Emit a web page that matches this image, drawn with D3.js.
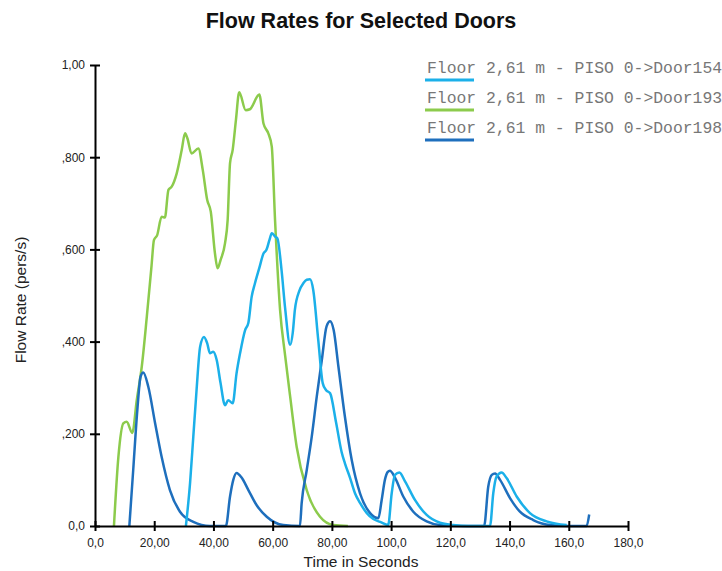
<!DOCTYPE html>
<html>
<head>
<meta charset="utf-8">
<script src="https://cdn.jsdelivr.net/npm/d3@7"></script>
<style>
  html, body { margin: 0; padding: 0; background: #fff; }
  svg { display: block; }
</style>
</head>
<body>
<svg id="chart" width="722" height="571"></svg>
<script>
// ---------- data ----------
const seriesNames = ["Floor 2,61 m - PISO 0->Door154", "Floor 2,61 m - PISO 0->Door193", "Floor 2,61 m - PISO 0->Door198"];

const door154T = [30.7, 32.1, 33.2, 34.3, 35.5, 36.8, 37.9, 38.8, 39.9, 41.1, 42.4, 43.9, 45.0, 46.5, 47.8, 49.0, 50.7, 51.8, 52.9, 54.0, 55.5, 56.9, 57.9, 58.9, 59.7, 60.8, 61.6, 63.0, 64.2, 65.9, 66.8, 67.5, 69.0, 70.4, 71.5, 72.6, 73.7, 75.4, 76.9, 78.0, 79.4, 81.4, 83.3, 84.4, 86.1, 87.8, 89.5, 91.8, 94.0, 96.3, 99.0, 100.2, 101.3, 102.8, 104.7, 108.1, 112.0, 116.5, 121.0, 126.0, 133.4, 134.5, 135.6, 137.3, 139.0, 142.4, 146.9, 152.5, 159.3];
const door154V = [0, 0.093, 0.194, 0.295, 0.389, 0.410, 0.396, 0.375, 0.378, 0.360, 0.310, 0.262, 0.273, 0.266, 0.331, 0.375, 0.425, 0.441, 0.497, 0.526, 0.560, 0.591, 0.599, 0.620, 0.635, 0.628, 0.624, 0.555, 0.473, 0.393, 0.420, 0.469, 0.510, 0.527, 0.534, 0.535, 0.512, 0.403, 0.310, 0.295, 0.288, 0.225, 0.160, 0.136, 0.105, 0.071, 0.050, 0.028, 0.015, 0.009, 0.002, 0.071, 0.111, 0.116, 0.097, 0.056, 0.024, 0.007, 0.002, 0, 0, 0.071, 0.107, 0.116, 0.104, 0.064, 0.028, 0.010, 0.002];

const door193T = [6.4, 7.9, 9.6, 10.7, 12.6, 14.1, 15.8, 17.5, 19.1, 19.9, 21.0, 22.5, 23.6, 24.8, 25.9, 27.6, 29.3, 30.4, 31.2, 32.6, 34.9, 36.4, 37.9, 39.1, 40.5, 41.4, 42.4, 43.9, 44.8, 45.6, 46.5, 47.6, 48.7, 50.9, 52.3, 55.5, 56.9, 58.5, 59.7, 60.8, 62.5, 64.2, 65.9, 68.1, 71.5, 76.0, 80.5, 85.4];
const door193V = [0, 0.150, 0.223, 0.226, 0.202, 0.273, 0.346, 0.454, 0.565, 0.620, 0.631, 0.671, 0.669, 0.729, 0.736, 0.765, 0.816, 0.852, 0.841, 0.808, 0.819, 0.772, 0.707, 0.682, 0.592, 0.559, 0.577, 0.613, 0.664, 0.787, 0.816, 0.881, 0.941, 0.902, 0.904, 0.936, 0.873, 0.852, 0.823, 0.664, 0.469, 0.370, 0.281, 0.172, 0.078, 0.020, 0.002, 0];

const door198T = [11.6, 12.9, 14.3, 15.4, 16.3, 18.0, 20.3, 22.5, 25.3, 28.7, 33.2, 38.8, 44.2, 45.6, 46.7, 47.8, 49.5, 51.8, 54.6, 58.0, 63.6, 69.2, 69.8, 71.5, 73.2, 74.9, 76.6, 78.2, 79.4, 80.6, 82.2, 84.4, 86.7, 89.5, 92.9, 95.7, 96.8, 97.9, 98.8, 99.6, 101.3, 104.1, 107.5, 112.0, 116.5, 124.0, 131.4, 132.8, 134.0, 135.1, 136.8, 140.2, 143.5, 148.0, 153.7, 160.0, 166.0, 166.9];
const door198V = [0, 0.121, 0.252, 0.324, 0.333, 0.302, 0.223, 0.150, 0.078, 0.031, 0.009, 0, 0, 0.064, 0.100, 0.115, 0.105, 0.078, 0.045, 0.020, 0.002, 0, 0.050, 0.121, 0.194, 0.281, 0.360, 0.433, 0.444, 0.425, 0.346, 0.237, 0.143, 0.071, 0.028, 0.017, 0.056, 0.100, 0.117, 0.120, 0.105, 0.064, 0.031, 0.010, 0.002, 0, 0, 0.085, 0.111, 0.114, 0.100, 0.060, 0.031, 0.013, 0.002, 0, 0, 0.025];

const xTickValues = [0, 20, 40, 60, 80, 100, 120, 140, 160, 180];
const xTickLabels = ["0,0", "20,00", "40,00", "60,00", "80,00", "100,0", "120,0", "140,0", "160,0", "180,0"];
const yTickValues = [0, 0.2, 0.4, 0.6, 0.8, 1.0];
const yTickLabels = ["0,0", ",200", ",400", ",600", ",800", "1,00"];

// ---------- layout ----------
const colors = ["#1bb0e9", "#8ccb4c", "#1e6fbd"];
const plotLeft = 95, plotRight = 628, plotTop = 65, plotBottom = 526;

const svg = d3.select("#chart");
const x = d3.scaleLinear().domain([0, 180]).range([plotLeft, plotRight]);
const y = d3.scaleLinear().domain([0, 1]).range([plotBottom, plotTop]);

// title
svg.append("text")
  .attr("x", 361).attr("y", 28)
  .attr("text-anchor", "middle")
  .attr("font-family", "Liberation Sans, Arial, sans-serif")
  .attr("font-weight", "bold")
  .attr("font-size", 21.5)
  .attr("fill", "#111")
  .text("Flow Rates for Selected Doors");

// lines
const series = [
  { t: door154T, v: door154V, c: colors[0] },
  { t: door193T, v: door193V, c: colors[1] },
  { t: door198T, v: door198V, c: colors[2] }
];
const line = d3.line()
  .x(d => x(d[0]))
  .y(d => y(d[1]))
  .curve(d3.curveMonotoneX);

[1, 2, 0].forEach(i => {
  const s = series[i];
  svg.append("path")
    .datum(s.t.map((t, k) => [t, s.v[k]]))
    .attr("fill", "none")
    .attr("stroke", s.c)
    .attr("stroke-width", 2.5)
    .attr("stroke-linejoin", "round")
    .attr("d", line);
});

// axes
const xAxis = d3.axisBottom(x)
  .tickValues(xTickValues)
  .tickFormat((d, i) => xTickLabels[i])
  .tickSizeInner(5).tickSizeOuter(0).tickPadding(7);
const gx = svg.append("g").attr("transform", `translate(0,${plotBottom})`).call(xAxis);
gx.select(".domain").attr("stroke", "#000").attr("stroke-width", 2);
gx.selectAll(".tick line").attr("stroke", "#000").attr("stroke-width", 2).attr("y1", -5).attr("y2", 5);
gx.selectAll(".tick text")
  .attr("font-family", "Liberation Sans, Arial, sans-serif")
  .attr("font-size", 12).attr("fill", "#222");

const yAxis = d3.axisLeft(y)
  .tickValues(yTickValues)
  .tickFormat((d, i) => yTickLabels[i])
  .tickSizeInner(5).tickSizeOuter(0).tickPadding(5);
const gy = svg.append("g").attr("transform", `translate(${plotLeft},0)`).call(yAxis);
gy.select(".domain").attr("stroke", "#000").attr("stroke-width", 2);
gy.selectAll(".tick line").attr("stroke", "#000").attr("stroke-width", 2).attr("x1", -5).attr("x2", 5);
gy.selectAll(".tick text")
  .attr("font-family", "Liberation Sans, Arial, sans-serif")
  .attr("font-size", 12).attr("fill", "#222");

// axis titles
svg.append("text")
  .attr("x", 361).attr("y", 567)
  .attr("text-anchor", "middle")
  .attr("font-family", "Liberation Sans, Arial, sans-serif")
  .attr("font-size", 15.5).attr("fill", "#222")
  .text("Time in Seconds");
svg.append("text")
  .attr("transform", "translate(26,300) rotate(-90)")
  .attr("text-anchor", "middle")
  .attr("font-family", "Liberation Sans, Arial, sans-serif")
  .attr("font-size", 15.5).attr("fill", "#222")
  .text("Flow Rate (pers/s)");

// legend
const leg = svg.append("g");
seriesNames.forEach((name, i) => {
  const yy = 73 + i * 30;
  leg.append("text")
    .attr("x", 427).attr("y", yy)
    .attr("font-family", "Liberation Mono, Courier New, monospace")
    .attr("font-size", 16.4)
    .attr("fill", "#777")
    .text(name);
  leg.append("line")
    .attr("x1", 425).attr("x2", 474)
    .attr("y1", yy + 7).attr("y2", yy + 7)
    .attr("stroke", colors[i]).attr("stroke-width", 3);
});
</script>
</body>
</html>
